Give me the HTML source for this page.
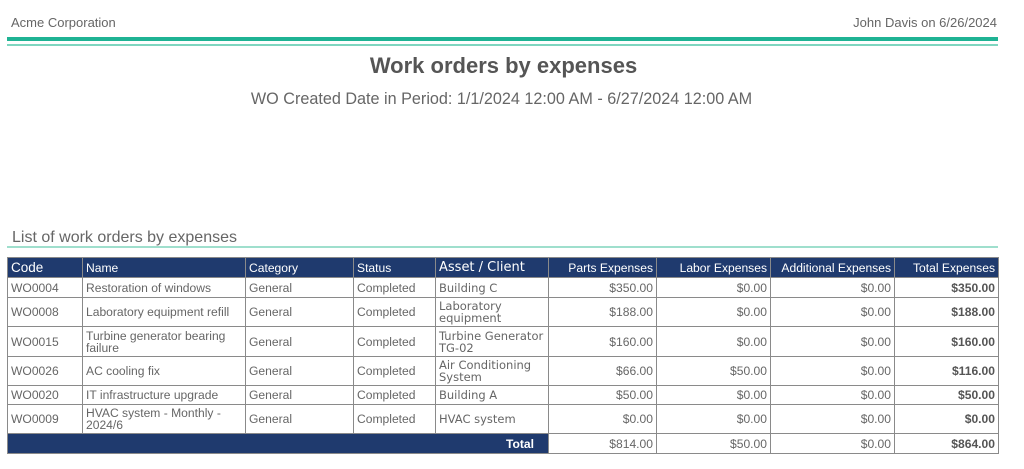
<!DOCTYPE html>
<html><head><meta charset="utf-8"><style>
body{margin:0;width:1024px;height:469px;background:#fff;position:relative;font-family:"Liberation Sans",sans-serif;color:#666;overflow:hidden}
.a{position:absolute;white-space:nowrap}
table{position:absolute;left:7px;top:257px;border-collapse:collapse;table-layout:fixed;width:991px;font-size:12.1px}
td,th{border:1px solid #8a8a8a;padding:0 3px;line-height:12px;overflow:hidden;font-weight:normal;text-align:left;vertical-align:middle}
th{background:#1f3a6e;color:#fff;border-color:#8a8a8a}
.r{text-align:right}
.b{font-weight:bold;color:#555}
.dj{font-family:"DejaVu Sans",sans-serif;font-size:11.5px}
th.dj{font-size:13px}
th.big{font-size:13.5px}
</style></head><body>
<div class="a" style="left:11px;top:15px;font-size:13px">Acme Corporation</div>
<div class="a" style="right:27px;top:15px;font-size:13px">John Davis on 6/26/2024</div>
<div class="a" style="left:7px;top:37px;width:991px;height:4px;background:#1fb394"></div>
<div class="a" style="left:7px;top:44px;width:991px;height:2px;background:#7fd6c0"></div>
<div class="a" style="left:0;width:1007px;top:53px;text-align:center;font-size:22px;font-weight:bold;color:#555">Work orders by expenses</div>
<div class="a" style="left:0;width:1003px;top:90px;text-align:center;font-size:16.2px">WO Created Date in Period: 1/1/2024 12:00 AM - 6/27/2024 12:00 AM</div>
<div class="a" style="left:12px;top:229px;font-size:16px">List of work orders by expenses</div>
<div class="a" style="left:7px;top:246px;width:991px;height:2px;background:#9fdfcd"></div>
<table>
<colgroup><col style="width:75px"><col style="width:163px"><col style="width:108px"><col style="width:82px"><col style="width:113px"><col style="width:108px"><col style="width:114px"><col style="width:124px"><col style="width:104px"></colgroup>
<tr style="height:20px"><th class="big">Code</th><th>Name</th><th>Category</th><th>Status</th><th class="dj">Asset / Client</th><th class="r">Parts Expenses</th><th class="r">Labor Expenses</th><th class="r">Additional Expenses</th><th class="r">Total Expenses</th></tr>
<tr style="height:20px"><td>WO0004</td><td>Restoration of windows</td><td>General</td><td>Completed</td><td class="dj">Building C</td><td class="r">$350.00</td><td class="r">$0.00</td><td class="r">$0.00</td><td class="r b">$350.00</td></tr>
<tr style="height:29px"><td>WO0008</td><td>Laboratory equipment refill</td><td>General</td><td>Completed</td><td class="dj">Laboratory<br>equipment</td><td class="r">$188.00</td><td class="r">$0.00</td><td class="r">$0.00</td><td class="r b">$188.00</td></tr>
<tr style="height:30px"><td>WO0015</td><td>Turbine generator bearing<br>failure</td><td>General</td><td>Completed</td><td class="dj">Turbine Generator<br>TG-02</td><td class="r">$160.00</td><td class="r">$0.00</td><td class="r">$0.00</td><td class="r b">$160.00</td></tr>
<tr style="height:29px"><td>WO0026</td><td>AC cooling fix</td><td>General</td><td>Completed</td><td class="dj">Air Conditioning<br>System</td><td class="r">$66.00</td><td class="r">$50.00</td><td class="r">$0.00</td><td class="r b">$116.00</td></tr>
<tr style="height:19px"><td>WO0020</td><td>IT infrastructure upgrade</td><td>General</td><td>Completed</td><td class="dj">Building A</td><td class="r">$50.00</td><td class="r">$0.00</td><td class="r">$0.00</td><td class="r b">$50.00</td></tr>
<tr style="height:29px"><td>WO0009</td><td>HVAC system - Monthly -<br>2024/6</td><td>General</td><td>Completed</td><td class="dj">HVAC system</td><td class="r">$0.00</td><td class="r">$0.00</td><td class="r">$0.00</td><td class="r b">$0.00</td></tr>
<tr style="height:20px"><th colspan="5" class="r" style="font-weight:bold;padding-right:14px">Total</th><td class="r">$814.00</td><td class="r">$50.00</td><td class="r">$0.00</td><td class="r b">$864.00</td></tr>
</table>
</body></html>
